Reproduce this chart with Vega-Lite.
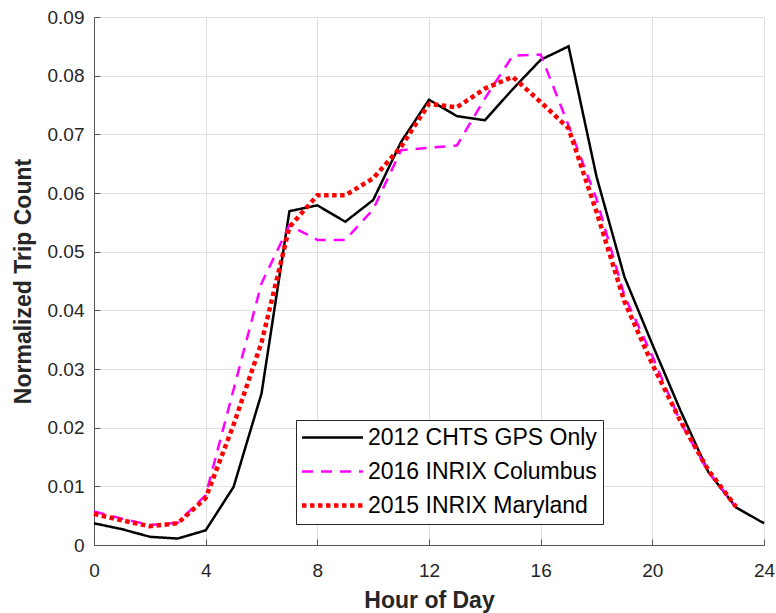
{
  "$schema": "https://vega.github.io/schema/vega-lite/v6.json",
  "autosize": "none",
  "width": 670,
  "height": 528,
  "padding": {"left": 94, "top": 17, "right": 12, "bottom": 68},
  "background": "white",
  "config": {
    "view": {"stroke": null},
    "font": "Liberation Sans",
    "axis": {
      "labelFont": "Liberation Sans",
      "titleFont": "Liberation Sans",
      "labelColor": "#262626",
      "titleColor": "#262626",
      "domainColor": "#555555",
      "tickColor": "#555555",
      "gridColor": "#e0e0e0",
      "gridOpacity": 1
    }
  },
  "data": {
    "values": [
      {"hour": 0, "share": 0.0037, "series": "2012 CHTS GPS Only"},
      {"hour": 1, "share": 0.0027, "series": "2012 CHTS GPS Only"},
      {"hour": 2, "share": 0.0014, "series": "2012 CHTS GPS Only"},
      {"hour": 3, "share": 0.0011, "series": "2012 CHTS GPS Only"},
      {"hour": 4, "share": 0.0025, "series": "2012 CHTS GPS Only"},
      {"hour": 5, "share": 0.0099, "series": "2012 CHTS GPS Only"},
      {"hour": 6, "share": 0.0258, "series": "2012 CHTS GPS Only"},
      {"hour": 7, "share": 0.0569, "series": "2012 CHTS GPS Only"},
      {"hour": 8, "share": 0.0579, "series": "2012 CHTS GPS Only"},
      {"hour": 9, "share": 0.0551, "series": "2012 CHTS GPS Only"},
      {"hour": 10, "share": 0.0588, "series": "2012 CHTS GPS Only"},
      {"hour": 11, "share": 0.0687, "series": "2012 CHTS GPS Only"},
      {"hour": 12, "share": 0.0759, "series": "2012 CHTS GPS Only"},
      {"hour": 13, "share": 0.0731, "series": "2012 CHTS GPS Only"},
      {"hour": 14, "share": 0.0724, "series": "2012 CHTS GPS Only"},
      {"hour": 15, "share": 0.0777, "series": "2012 CHTS GPS Only"},
      {"hour": 16, "share": 0.0827, "series": "2012 CHTS GPS Only"},
      {"hour": 17, "share": 0.0850, "series": "2012 CHTS GPS Only"},
      {"hour": 18, "share": 0.0628, "series": "2012 CHTS GPS Only"},
      {"hour": 19, "share": 0.0457, "series": "2012 CHTS GPS Only"},
      {"hour": 20, "share": 0.0342, "series": "2012 CHTS GPS Only"},
      {"hour": 21, "share": 0.0230, "series": "2012 CHTS GPS Only"},
      {"hour": 22, "share": 0.0125, "series": "2012 CHTS GPS Only"},
      {"hour": 23, "share": 0.0064, "series": "2012 CHTS GPS Only"},
      {"hour": 24, "share": 0.0037, "series": "2012 CHTS GPS Only"},
      {"hour": 0, "share": 0.0057, "series": "2016 INRIX Columbus"},
      {"hour": 1, "share": 0.0045, "series": "2016 INRIX Columbus"},
      {"hour": 2, "share": 0.0034, "series": "2016 INRIX Columbus"},
      {"hour": 3, "share": 0.0038, "series": "2016 INRIX Columbus"},
      {"hour": 4, "share": 0.0085, "series": "2016 INRIX Columbus"},
      {"hour": 5, "share": 0.0265, "series": "2016 INRIX Columbus"},
      {"hour": 6, "share": 0.0446, "series": "2016 INRIX Columbus"},
      {"hour": 7, "share": 0.0545, "series": "2016 INRIX Columbus"},
      {"hour": 8, "share": 0.0520, "series": "2016 INRIX Columbus"},
      {"hour": 9, "share": 0.0520, "series": "2016 INRIX Columbus"},
      {"hour": 10, "share": 0.0572, "series": "2016 INRIX Columbus"},
      {"hour": 11, "share": 0.0673, "series": "2016 INRIX Columbus"},
      {"hour": 12, "share": 0.0677, "series": "2016 INRIX Columbus"},
      {"hour": 13, "share": 0.0681, "series": "2016 INRIX Columbus"},
      {"hour": 14, "share": 0.0761, "series": "2016 INRIX Columbus"},
      {"hour": 15, "share": 0.0834, "series": "2016 INRIX Columbus"},
      {"hour": 16, "share": 0.0836, "series": "2016 INRIX Columbus"},
      {"hour": 17, "share": 0.0715, "series": "2016 INRIX Columbus"},
      {"hour": 18, "share": 0.0590, "series": "2016 INRIX Columbus"},
      {"hour": 19, "share": 0.0425, "series": "2016 INRIX Columbus"},
      {"hour": 20, "share": 0.0322, "series": "2016 INRIX Columbus"},
      {"hour": 21, "share": 0.0210, "series": "2016 INRIX Columbus"},
      {"hour": 22, "share": 0.0125, "series": "2016 INRIX Columbus"},
      {"hour": 23, "share": 0.0065, "series": "2016 INRIX Columbus"},
      {"hour": 0, "share": 0.0053, "series": "2015 INRIX Maryland"},
      {"hour": 1, "share": 0.0042, "series": "2015 INRIX Maryland"},
      {"hour": 2, "share": 0.0032, "series": "2015 INRIX Maryland"},
      {"hour": 3, "share": 0.0037, "series": "2015 INRIX Maryland"},
      {"hour": 4, "share": 0.0080, "series": "2015 INRIX Maryland"},
      {"hour": 5, "share": 0.0205, "series": "2015 INRIX Maryland"},
      {"hour": 6, "share": 0.0345, "series": "2015 INRIX Maryland"},
      {"hour": 7, "share": 0.0542, "series": "2015 INRIX Maryland"},
      {"hour": 8, "share": 0.0596, "series": "2015 INRIX Maryland"},
      {"hour": 9, "share": 0.0596, "series": "2015 INRIX Maryland"},
      {"hour": 10, "share": 0.0625, "series": "2015 INRIX Maryland"},
      {"hour": 11, "share": 0.0679, "series": "2015 INRIX Maryland"},
      {"hour": 12, "share": 0.0752, "series": "2015 INRIX Maryland"},
      {"hour": 13, "share": 0.0746, "series": "2015 INRIX Maryland"},
      {"hour": 14, "share": 0.0778, "series": "2015 INRIX Maryland"},
      {"hour": 15, "share": 0.0798, "series": "2015 INRIX Maryland"},
      {"hour": 16, "share": 0.0755, "series": "2015 INRIX Maryland"},
      {"hour": 17, "share": 0.0710, "series": "2015 INRIX Maryland"},
      {"hour": 18, "share": 0.0568, "series": "2015 INRIX Maryland"},
      {"hour": 19, "share": 0.0415, "series": "2015 INRIX Maryland"},
      {"hour": 20, "share": 0.0308, "series": "2015 INRIX Maryland"},
      {"hour": 21, "share": 0.0212, "series": "2015 INRIX Maryland"},
      {"hour": 22, "share": 0.0128, "series": "2015 INRIX Maryland"},
      {"hour": 23, "share": 0.0065, "series": "2015 INRIX Maryland"}
    ]
  },
  "mark": {"type": "line", "strokeCap": "butt", "strokeJoin": "miter"},
  "encoding": {
    "x": {
      "field": "hour",
      "type": "quantitative",
      "scale": {"domain": [0, 24], "nice": false, "zero": false},
      "axis": {
        "values": [0, 4, 8, 12, 16, 20, 24],
        "title": "Hour of Day",
        "titleFontSize": 23,
        "titleFontWeight": "bold",
        "titlePadding": 9,
        "labelFontSize": 19,
        "labelPadding": 22,
        "tickSize": -6,
        "grid": true,
        "labelFlush": false
      }
    },
    "y": {
      "field": "share",
      "type": "quantitative",
      "scale": {"domain": [0, 0.09], "nice": false},
      "axis": {
        "values": [0, 0.01, 0.02, 0.03, 0.04, 0.05, 0.06, 0.07, 0.08, 0.09],
        "format": "~g",
        "title": "Normalized Trip Count",
        "titleFontSize": 23,
        "titleFontWeight": "bold",
        "titlePadding": 12,
        "labelFontSize": 19,
        "labelPadding": 16,
        "tickSize": -6,
        "grid": true,
        "labelFlush": false
      }
    },
    "color": {
      "field": "series",
      "type": "nominal",
      "scale": {
        "domain": ["2012 CHTS GPS Only", "2016 INRIX Columbus", "2015 INRIX Maryland"],
        "range": ["#000000", "#ff00ff", "#ff0000"]
      },
      "legend": {
        "title": null,
        "orient": "none",
        "legendX": 202,
        "legendY": 403,
        "direction": "vertical",
        "symbolType": "stroke",
        "symbolSize": 3721,
        "symbolStrokeWidth": 3,
        "symbolOffset": 19,
        "labelFont": "Liberation Sans",
        "labelFontSize": 23,
        "labelColor": "#000000",
        "labelOffset": 24,
        "labelLimit": 400,
        "rowPadding": 10,
        "padding": 6,
        "strokeColor": "#262626",
        "fillColor": "white",
        "encode": {
          "symbols": {
            "update": {
              "strokeWidth": {"signal": "datum.value === '2015 INRIX Maryland' ? 4.5 : 2.5"},
              "strokeCap": {"value": "butt"}
            }
          }
        }
      }
    },
    "strokeDash": {
      "field": "series",
      "type": "nominal",
      "scale": {
        "domain": ["2012 CHTS GPS Only", "2016 INRIX Columbus", "2015 INRIX Maryland"],
        "range": [[1, 0], [11, 8], [4.5, 3.5]]
      },
      "legend": null
    },
    "strokeWidth": {
      "condition": {"test": "datum.series === '2015 INRIX Maryland'", "value": 4.5},
      "value": 2.5
    }
  }
}
